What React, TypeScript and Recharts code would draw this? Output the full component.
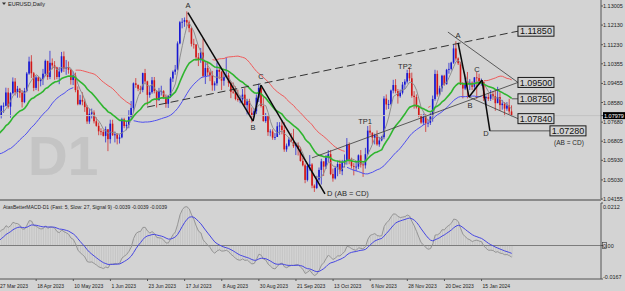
import { ComposedChart, Bar, Line, XAxis, YAxis, ReferenceLine, ReferenceDot } from 'recharts';

const FONT = "'Liberation Sans', Arial, sans-serif";
const BG = '#d3d3d3';
const BULL = '#1616d2';
const BEAR = '#d21616';

// EURUSD daily, Feb 1 - Mar 24 2023 (only used to warm up the averages)
const PRE_CLOSE = [1.0990, 1.0908, 1.0795, 1.0727, 1.0730, 1.0712, 1.0740, 1.0678, 1.0723, 1.0737, 1.0687, 1.0676, 1.0694, 1.0686, 1.0652, 1.0605, 1.0595, 1.0547, 1.0605, 1.0577, 1.0668, 1.0597, 1.0634, 1.0681, 1.0548, 1.0545, 1.0582, 1.0642, 1.0732, 1.0732, 1.0577, 1.0609, 1.0669, 1.0718, 1.0770, 1.0853, 1.0830, 1.0760];
const PRE_HIGH = [1.1000, 1.1033, 1.0920, 1.0803, 1.0753, 1.0760, 1.0790, 1.0745, 1.0730, 1.0805, 1.0745, 1.0715, 1.0708, 1.0720, 1.0695, 1.0666, 1.0641, 1.0600, 1.0620, 1.0646, 1.0691, 1.0665, 1.0643, 1.0694, 1.0695, 1.0565, 1.0590, 1.0700, 1.0735, 1.0760, 1.0760, 1.0630, 1.0680, 1.0730, 1.0790, 1.0855, 1.0930, 1.0835];
const PRE_LOW = [1.0860, 1.0897, 1.0790, 1.0710, 1.0669, 1.0695, 1.0704, 1.0657, 1.0660, 1.0710, 1.0660, 1.0658, 1.0613, 1.0660, 1.0632, 1.0600, 1.0577, 1.0533, 1.0535, 1.0573, 1.0575, 1.0580, 1.0577, 1.0630, 1.0540, 1.0524, 1.0530, 1.0577, 1.0640, 1.0690, 1.0516, 1.0550, 1.0610, 1.0630, 1.0710, 1.0760, 1.0823, 1.0713];

// visible bars, 27 Mar 2023 - 1 Feb 2024 (open = previous close)
const CLOSE = [
  1.0800, 1.0843, 1.0843, 1.0904, 1.0839, 1.0901, 1.0954, 1.0905, 1.0921, 1.0903,
  1.0860, 1.0911, 1.0991, 1.1046, 1.0992, 1.0925, 1.0973, 1.0956, 1.0966, 1.0990,
  1.1049, 1.0975, 1.1040, 1.1028, 1.1019, 1.0975, 1.1000, 1.1070, 1.1013, 1.1018,
  1.1008, 1.0961, 1.0982, 1.0915, 1.0850, 1.0870, 1.0862, 1.0837, 1.0771, 1.0806,
  1.0812, 1.0772, 1.0751, 1.0726, 1.0723, 1.0705, 1.0735, 1.0690, 1.0761, 1.0708,
  1.0712, 1.0692, 1.0698, 1.0781, 1.0750, 1.0756, 1.0792, 1.0833, 1.0946, 1.0939,
  1.0921, 1.0916, 1.0993, 1.0955, 1.0893, 1.0905, 1.0960, 1.0911, 1.0868, 1.0910,
  1.0910, 1.0882, 1.0852, 1.0888, 1.0968, 1.0999, 1.1009, 1.1129, 1.1226, 1.1228,
  1.1236, 1.1225, 1.1199, 1.1127, 1.1124, 1.1065, 1.1053, 1.1087, 1.0980, 1.1016,
  1.0996, 1.0983, 1.0937, 1.0946, 1.1007, 1.0999, 1.0958, 1.0975, 1.0982, 1.0948,
  1.0907, 1.0904, 1.0874, 1.0870, 1.0872, 1.0894, 1.0846, 1.0863, 1.0811, 1.0795,
  1.0818, 1.0880, 1.0925, 1.0842, 1.0773, 1.0796, 1.0722, 1.0725, 1.0697, 1.0700,
  1.0749, 1.0752, 1.0732, 1.0643, 1.0660, 1.0688, 1.0678, 1.0658, 1.0662, 1.0647,
  1.0590, 1.0570, 1.0503, 1.0567, 1.0574, 1.0477, 1.0466, 1.0504, 1.0549, 1.0588,
  1.0564, 1.0606, 1.0621, 1.0530, 1.0510, 1.0558, 1.0576, 1.0543, 1.0584, 1.0593,
  1.0666, 1.0590, 1.0566, 1.0563, 1.0564, 1.0616, 1.0574, 1.0570, 1.0621, 1.0729,
  1.0720, 1.0697, 1.0708, 1.0666, 1.0684, 1.0699, 1.0876, 1.0849, 1.0851, 1.0913,
  1.0938, 1.0910, 1.0887, 1.0903, 1.0940, 1.0954, 1.0993, 1.0969, 1.0889, 1.0883,
  1.0836, 1.0796, 1.0766, 1.0793, 1.0762, 1.0765, 1.0794, 1.0874, 1.0989, 1.0895,
  1.0923, 1.0981, 1.0942, 1.1008, 1.1012, 1.1041, 1.1106, 1.1060, 1.1038, 1.0941,
  1.0922, 1.0948, 1.0941, 1.0949, 1.0930, 1.0973, 1.0970, 1.0950, 1.0952, 1.0878,
  1.0883, 1.0875, 1.0896, 1.0887, 1.0855, 1.0883, 1.0846, 1.0853, 1.0830, 1.0844,
  1.0817, 1.0798,
];
const HIGH = [
  1.0808, 1.0845, 1.0858, 1.0926, 1.0925, 1.0905, 1.0973, 1.0970, 1.0934, 1.0925,
  1.0915, 1.0925, 1.0998, 1.1068, 1.1075, 1.0998, 1.0980, 1.0978, 1.0972, 1.1012,
  1.1055, 1.1045, 1.1095, 1.1060, 1.1048, 1.1022, 1.1020, 1.1090, 1.1092, 1.1053,
  1.1046, 1.1012, 1.1000, 1.0995, 1.0932, 1.0893, 1.0905, 1.0875, 1.0846, 1.0830,
  1.0830, 1.0822, 1.0790, 1.0766, 1.0740, 1.0733, 1.0748, 1.0736, 1.0779, 1.0779,
  1.0725, 1.0718, 1.0712, 1.0788, 1.0788, 1.0770, 1.0823, 1.0865, 1.0950, 1.0970,
  1.0940, 1.0935, 1.0995, 1.1012, 1.0958, 1.0935, 1.0975, 1.0975, 1.0915, 1.0925,
  1.0935, 1.0915, 1.0895, 1.0893, 1.0975, 1.1005, 1.1030, 1.1138, 1.1232, 1.1245,
  1.1248, 1.1276, 1.1234, 1.1204, 1.1150, 1.1125, 1.1085, 1.1108, 1.1150, 1.1045,
  1.1043, 1.1005, 1.1003, 1.0955, 1.1042, 1.1015, 1.1002, 1.0995, 1.1065, 1.0995,
  1.0955, 1.0950, 1.0932, 1.0917, 1.0890, 1.0920, 1.0925, 1.0875, 1.0875, 1.0835,
  1.0830, 1.0895, 1.0945, 1.0930, 1.0882, 1.0810, 1.0800, 1.0735, 1.0735, 1.0718,
  1.0768, 1.0768, 1.0775, 1.0768, 1.0670, 1.0700, 1.0718, 1.0737, 1.0675, 1.0675,
  1.0655, 1.0605, 1.0578, 1.0575, 1.0617, 1.0580, 1.0483, 1.0522, 1.0560, 1.0600,
  1.0578, 1.0617, 1.0640, 1.0640, 1.0555, 1.0565, 1.0590, 1.0595, 1.0595, 1.0620,
  1.0695, 1.0675, 1.0605, 1.0580, 1.0590, 1.0620, 1.0640, 1.0580, 1.0650, 1.0750,
  1.0755, 1.0720, 1.0715, 1.0730, 1.0700, 1.0705, 1.0887, 1.0895, 1.0870, 1.0917,
  1.0962, 1.0965, 1.0920, 1.0917, 1.0952, 1.0965, 1.1008, 1.1017, 1.0995, 1.0910,
  1.0895, 1.0845, 1.0805, 1.0806, 1.0805, 1.0780, 1.0810, 1.0890, 1.1008, 1.1005,
  1.0935, 1.0985, 1.0985, 1.1012, 1.1040, 1.1045, 1.1122, 1.1139, 1.1065, 1.1045,
  1.0952, 1.0970, 1.0998, 1.0965, 1.0955, 1.0975, 1.0998, 1.0990, 1.0968, 1.0955,
  1.0890, 1.0900, 1.0915, 1.0910, 1.0915, 1.0930, 1.0905, 1.0870, 1.0860, 1.0860,
  1.0875, 1.0845,
];
const LOW = [
  1.0745, 1.0785, 1.0810, 1.0840, 1.0830, 1.0788, 1.0895, 1.0890, 1.0880, 1.0880,
  1.0835, 1.0855, 1.0905, 1.0985, 1.0970, 1.0910, 1.0915, 1.0910, 1.0932, 1.0938,
  1.0978, 1.0962, 1.0965, 1.1010, 1.0962, 1.0965, 1.0942, 1.0994, 1.0998, 1.0985,
  1.0990, 1.0940, 1.0938, 1.0905, 1.0845, 1.0846, 1.0845, 1.0815, 1.0760, 1.0760,
  1.0785, 1.0762, 1.0747, 1.0708, 1.0708, 1.0702, 1.0675, 1.0635, 1.0670, 1.0705,
  1.0675, 1.0666, 1.0670, 1.0694, 1.0740, 1.0731, 1.0740, 1.0780, 1.0812, 1.0925,
  1.0910, 1.0898, 1.0905, 1.0945, 1.0845, 1.0880, 1.0898, 1.0900, 1.0835, 1.0868,
  1.0890, 1.0875, 1.0834, 1.0833, 1.0880, 1.0952, 1.0985, 1.1005, 1.1125, 1.1198,
  1.1205, 1.1210, 1.1180, 1.1115, 1.1105, 1.1050, 1.1025, 1.1040, 1.0972, 1.0943,
  1.0980, 1.0956, 1.0912, 1.0912, 1.0935, 1.0965, 1.0915, 1.0935, 1.0970, 1.0930,
  1.0878, 1.0898, 1.0868, 1.0862, 1.0855, 1.0860, 1.0838, 1.0803, 1.0804, 1.0766,
  1.0790, 1.0805, 1.0860, 1.0835, 1.0770, 1.0765, 1.0705, 1.0703, 1.0687, 1.0686,
  1.0702, 1.0710, 1.0712, 1.0632, 1.0632, 1.0655, 1.0675, 1.0650, 1.0617, 1.0615,
  1.0587, 1.0565, 1.0488, 1.0496, 1.0545, 1.0465, 1.0448, 1.0461, 1.0495, 1.0482,
  1.0521, 1.0553, 1.0585, 1.0525, 1.0495, 1.0505, 1.0520, 1.0530, 1.0525, 1.0560,
  1.0573, 1.0575, 1.0555, 1.0524, 1.0543, 1.0553, 1.0560, 1.0517, 1.0555, 1.0618,
  1.0707, 1.0668, 1.0666, 1.0660, 1.0655, 1.0680, 1.0690, 1.0825, 1.0828, 1.0845,
  1.0900, 1.0900, 1.0853, 1.0880, 1.0895, 1.0920, 1.0945, 1.0957, 1.0880, 1.0830,
  1.0830, 1.0790, 1.0760, 1.0755, 1.0723, 1.0745, 1.0755, 1.0770, 1.0866, 1.0885,
  1.0888, 1.0907, 1.0935, 1.0940, 1.0990, 1.1005, 1.1035, 1.1050, 1.1030, 1.0938,
  1.0877, 1.0915, 1.0877, 1.0915, 1.0915, 1.0910, 1.0875, 1.0940, 1.0935, 1.0865,
  1.0845, 1.0865, 1.0865, 1.0870, 1.0820, 1.0855, 1.0820, 1.0825, 1.0795, 1.0820,
  1.0805, 1.0795,
];

const PRICE_TICKS = [1.13005, 1.1213, 1.1123, 1.10355, 1.09455, 1.0858, 1.0768, 1.06805, 1.0593, 1.0503, 1.04155];
const LAST_PRICE = 1.07979;
const MACD_TICKS = [0.0212, 0, -0.0167];
const DATE_TICKS = [0, 16, 32, 48, 64, 80, 96, 112, 128, 144, 160, 176, 192, 208];
const DATE_LABELS = ['27 Mar 2023', '18 Apr 2023', '10 May 2023', '1 Jun 2023', '23 Jun 2023', '17 Jul 2023', '8 Aug 2023', '30 Aug 2023', '21 Sep 2023', '13 Oct 2023', '6 Nov 2023', '28 Nov 2023', '20 Dec 2023', '15 Jan 2024'];

// hand-drawn objects on the chart, in (bar, price)
const ABCD_1 = [[81.4, 1.1270], [109.5, 1.0773], [112.9, 1.0938], [140.5, 1.0439]];
const ABCD_2 = [[197.9, 1.1131], [202.6, 1.0883], [208.2, 1.0961], [211.6, 1.0728]];
const ABCD_NAMES = ['A', 'B', 'C', 'D'];
const DASHED_LINE = [[63.8, 1.0837], [223.7, 1.1185]];
const THIN_LINES = [
  [[193.5, 1.1181], [223.7, 1.0950]],
  [[202.6, 1.0883], [223.7, 1.0784]],
  [[134.9, 1.0604], [223.7, 1.0950]],
  [[221.1, 1.0875], [223.7, 1.0875]],
  [[211.6, 1.0728], [237.5, 1.0728]],
];
const LEVELS = [[223.7, 1.1185, '1.11850'], [223.7, 1.0950, '1.09500'], [223.7, 1.0875, '1.08750'], [223.7, 1.0784, '1.07840'], [237.5, 1.0728, '1.07280']];
const TP_LABELS = [[157.8, 1.0769, 'TP1'], [175.0, 1.1025, 'TP2']];

function sma(src: number[], n: number) {
  return src.map((_, i) => (i < n - 1 ? null : src.slice(i - n + 1, i + 1).reduce((a, b) => a + b, 0) / n));
}
function ema(src: number[], n: number) {
  const k = 2 / (n + 1);
  const out: number[] = [];
  src.forEach((v, i) => out.push(i === 0 ? v : out[i - 1] + k * (v - out[i - 1])));
  return out;
}

const allC = [...PRE_CLOSE, ...CLOSE];
const allH = [...PRE_HIGH, ...HIGH];
const allL = [...PRE_LOW, ...LOW];
const OFF = PRE_CLOSE.length;

const fast = sma(allC, 5);
const mid = ema(allC, 21);
const hiMa = sma(allH, 30);
const loMa = sma(allL, 30);
const ema5 = ema(allC, 5);
const ema27 = ema(allC, 27);
const macd = ema5.map((v, i) => v - ema27[i]);
const signal = ema(macd, 9);

let trend = 0;
const trendAt = allC.map((c, k) => {
  const h = hiMa[k];
  const l = loMa[k];
  if (h != null && l != null) {
    if (c > h) trend = 1;
    else if (c < l) trend = -1;
  }
  return trend;
});

const rows = CLOSE.map((c, i) => {
  const k = i + OFF;
  const o = allC[k - 1];
  return {
    i,
    o,
    c,
    h: Math.max(HIGH[i], o, c),
    l: Math.min(LOW[i], o, c),
    fast: fast[k],
    mid: mid[k],
    up: trendAt[k] === 1 ? loMa[k] : null,
    dn: trendAt[k] === -1 ? hiMa[k] : null,
    macd: macd[k],
    signal: signal[k],
  };
});

const X_DOMAIN: [number, number] = [0.4, 259.5];

function Candle(props: any) {
  const { x, y, width, height, payload } = props;
  if (!payload || x == null || y == null) return null;
  const top = Math.min(y, y + height);
  const bot = Math.max(y, y + height);
  const { o, h, l, c } = payload;
  const span = h - l || 1e-9;
  const py = (p: number) => top + ((h - p) / span) * (bot - top);
  const cx = x + width / 2;
  const color = c >= o ? BULL : BEAR;
  const b1 = py(Math.max(o, c));
  const b2 = py(Math.min(o, c));
  return (
    <g>
      <line x1={cx} x2={cx} y1={top} y2={bot} stroke={color} strokeWidth={1} strokeOpacity={0.7} />
      <rect x={cx - 0.8} y={b1} width={1.6} height={Math.max(b2 - b1, 0.8)} fill={color} />
    </g>
  );
}

function HistLine(props: any) {
  const { x, y, width, height } = props;
  if (x == null || y == null) return null;
  const cx = x + width / 2;
  return <line x1={cx} x2={cx} y1={y} y2={y + height} stroke="#b6b6b6" strokeWidth={0.5} />;
}

function PriceTick(props: any) {
  const { x, y, payload } = props;
  const v = payload.value;
  if (v === LAST_PRICE) {
    return (
      <g>
        <rect x={x} y={y - 3.5} width={22} height={7} fill="#000" />
        <text x={x + 1} y={y + 2} fontSize={5.5} fill="#fff" fontFamily={FONT}>{v.toFixed(5)}</text>
      </g>
    );
  }
  return <text x={x} y={y + 2} fontSize={5.5} fill="#222" fontFamily={FONT}>{v.toFixed(5)}</text>;
}

function MacdTick(props: any) {
  const { x, y, payload } = props;
  const v = payload.value;
  if (v === 0) {
    return (
      <g>
        <rect x={x - 0.5} y={y - 3} width={4} height={6} fill="none" stroke="#333" strokeWidth={0.6} />
        <text x={x} y={y + 2} fontSize={5.5} fill="#222" fontFamily={FONT}>0.00</text>
      </g>
    );
  }
  const dy = v > 0 ? 5.5 : -0.5;
  return <text x={x} y={y + dy} fontSize={5.5} fill="#222" fontFamily={FONT}>{v.toFixed(4)}</text>;
}

function DateTick(props: any) {
  const { x, y, payload } = props;
  const label = DATE_LABELS[DATE_TICKS.indexOf(payload.value)];
  return <text x={x + 1} y={y + 5} fontSize={5} fill="#222" fontFamily={FONT}>{label}</text>;
}

function seg(a: number[], b: number[]) {
  return [{ x: a[0], y: a[1] }, { x: b[0], y: b[1] }];
}

const LABEL_OFFSETS_1 = [[0, -5], [0, 9], [0, -6], [2, 2]];
const LABEL_OFFSETS_2 = [[0, -5], [1, 11], [-5, -8], [-4, 5]];

function textShape(text: string, dx: number, dy: number, anchor: string, size = 7.5) {
  return (p: any) => (
    <text x={p.cx + dx} y={p.cy + dy} textAnchor={anchor} fontSize={size} fill="#2a2a2a" fontFamily={FONT}>
      {text}
    </text>
  );
}

function boxShape(text: string) {
  return (p: any) => (
    <g>
      <rect x={p.cx} y={p.cy - 5} width={36} height={10} fill={BG} stroke="#1a1a1a" strokeWidth={1} />
      <text x={p.cx + 18} y={p.cy + 3.3} textAnchor="middle" fontSize={9} fill="#111" fontFamily={FONT}>
        {text}
      </text>
    </g>
  );
}

export default function App() {
  return (
    <div style={{ position: 'absolute', left: 0, top: 0, width: 625, height: 291, background: BG, overflow: 'hidden' }}>
      <svg width={625} height={291} style={{ position: 'absolute', left: 0, top: 0 }}>
        <text x={28} y={175} fontSize={55} fontWeight="bold" fill="#c4c4c4" fontFamily={FONT}>D1</text>
      </svg>

      <div style={{ position: 'absolute', left: 0, top: 0 }}>
        <ComposedChart width={625} height={206} data={rows} margin={{ top: 0, right: 0, bottom: 6, left: 0 }}>
          <XAxis dataKey="i" type="number" domain={X_DOMAIN} allowDataOverflow hide />
          <YAxis
            orientation="right"
            width={24}
            domain={[1.0411, 1.1328]}
            allowDataOverflow
            ticks={[...PRICE_TICKS, LAST_PRICE]}
            interval={0}
            tick={PriceTick}
            tickSize={2}
            tickMargin={0}
            tickLine={{ stroke: '#555' }}
            axisLine={{ stroke: '#555' }}
          />
          <ReferenceLine y={LAST_PRICE} stroke="#c3c3c3" />
          <Bar dataKey={(d: any) => [d.l, d.h]} shape={<Candle />} barSize={2} isAnimationActive={false} />
          <Line dataKey="fast" type="linear" stroke="#8e8e8e" strokeWidth={1} dot={false} activeDot={false} isAnimationActive={false} />
          <Line dataKey="mid" type="linear" stroke="#2fb52f" strokeWidth={1.6} dot={false} activeDot={false} isAnimationActive={false} />
          <Line dataKey="up" type="linear" stroke="#4e4ef0" strokeWidth={1} dot={false} activeDot={false} isAnimationActive={false} />
          <Line dataKey="dn" type="linear" stroke="#f05a5a" strokeWidth={1} dot={false} activeDot={false} isAnimationActive={false} />

          <ReferenceLine segment={seg(DASHED_LINE[0], DASHED_LINE[1])} stroke="#333" strokeWidth={1} strokeDasharray="8 4" />
          {THIN_LINES.map((l, n) => (
            <ReferenceLine key={`t${n}`} segment={seg(l[0], l[1])} stroke="#3a3a3a" strokeWidth={0.8} />
          ))}
          {[ABCD_1, ABCD_2].map((pts, m) =>
            pts.slice(1).map((p, n) => (
              <ReferenceLine key={`p${m}-${n}`} segment={seg(pts[n], p)} stroke="#0a0a0a" strokeWidth={1.5} />
            )),
          )}
          {ABCD_1.map((p, n) => (
            <ReferenceDot
              key={`l1${n}`}
              x={p[0]}
              y={p[1]}
              shape={textShape(n === 3 ? 'D (AB = CD)' : ABCD_NAMES[n], LABEL_OFFSETS_1[n][0], LABEL_OFFSETS_1[n][1], n === 3 ? 'start' : 'middle')}
            />
          ))}
          {ABCD_2.map((p, n) => (
            <ReferenceDot
              key={`l2${n}`}
              x={p[0]}
              y={p[1]}
              shape={textShape(ABCD_NAMES[n], LABEL_OFFSETS_2[n][0], LABEL_OFFSETS_2[n][1], 'middle')}
            />
          ))}
          {TP_LABELS.map((t) => (
            <ReferenceDot key={String(t[2])} x={t[0] as number} y={t[1] as number} shape={textShape(String(t[2]), 0, 2.5, 'middle')} />
          ))}
          {LEVELS.map((lv) => (
            <ReferenceDot key={String(lv[2])} x={lv[0] as number} y={lv[1] as number} shape={boxShape(String(lv[2]))} />
          ))}
          <ReferenceDot x={237.5} y={1.0728} shape={textShape('(AB = CD)', 19, 14.5, 'middle', 6.5)} />
        </ComposedChart>
      </div>

      <div style={{ position: 'absolute', left: 0, top: 201 }}>
        <ComposedChart width={625} height={90} data={rows} margin={{ top: 2, right: 0, bottom: 0, left: 0 }}>
          <XAxis
            dataKey="i"
            type="number"
            domain={X_DOMAIN}
            allowDataOverflow
            ticks={DATE_TICKS}
            interval={0}
            height={12}
            tick={DateTick}
            tickSize={2}
            tickLine={{ stroke: '#555' }}
            axisLine={{ stroke: '#555' }}
          />
          <YAxis
            orientation="right"
            width={24}
            domain={[-0.0167, 0.0212]}
            allowDataOverflow
            ticks={MACD_TICKS}
            interval={0}
            tick={MacdTick}
            tickSize={2}
            tickMargin={0}
            tickLine={{ stroke: '#555' }}
            axisLine={{ stroke: '#555' }}
          />
          <ReferenceLine y={0} stroke="#7c7c7c" />
          <Bar dataKey="macd" shape={<HistLine />} barSize={1} isAnimationActive={false} />
          <Line dataKey="macd" type="linear" stroke="#959595" strokeWidth={1} dot={false} activeDot={false} isAnimationActive={false} />
          <Line dataKey="signal" type="linear" stroke="#4646e2" strokeWidth={1} dot={false} activeDot={false} isAnimationActive={false} />
        </ComposedChart>
      </div>

      <svg width={625} height={291} style={{ position: 'absolute', left: 0, top: 0, pointerEvents: 'none' }}>
        <rect x={0} y={199} width={601} height={2} fill="#8a8a8a" />
        <path d="M2 2.5 L6 2.5 L4 5 Z" fill="#333" />
        <text x={8} y={5.5} fontSize={5.5} fill="#222" fontFamily={FONT}>EURUSD,Daily</text>
        <text x={3} y={209} fontSize={5} fill="#222" fontFamily={FONT}>
          AtasBetterMACD-D1 (Fast: 5, Slow: 27, Signal 9) -0.0039 -0.0039 -0.0039
        </text>
      </svg>
    </div>
  );
}
